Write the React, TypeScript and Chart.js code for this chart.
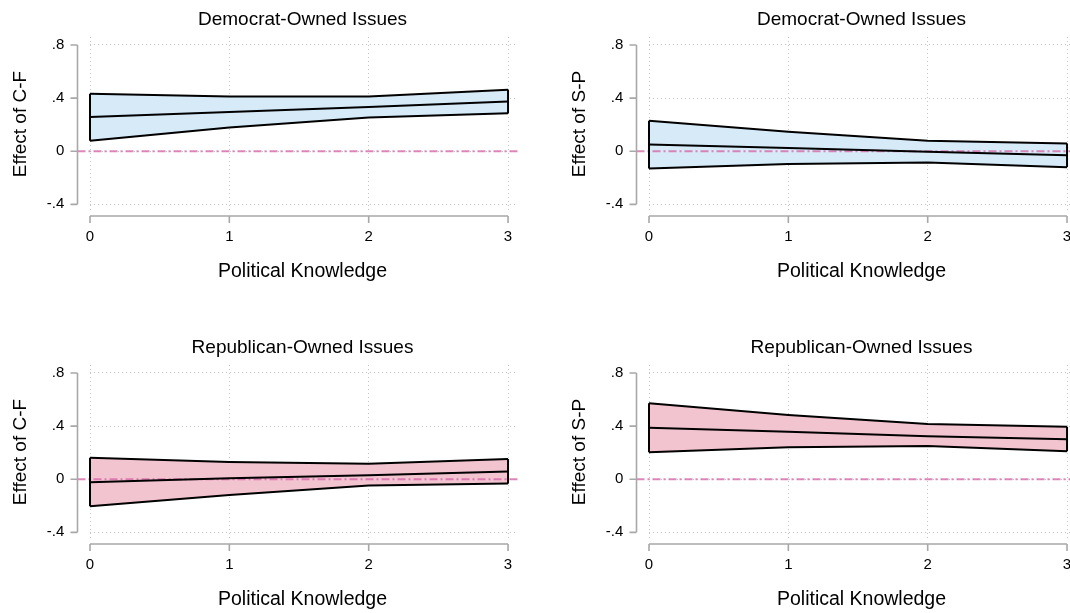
import React, { useEffect, useRef } from "react";
import { Chart, registerables } from "chart.js";

Chart.register(...registerables);

// ---------- data ----------
const xValues = [0, 1, 2, 3];
const xTickLabels = ["0", "1", "2", "3"];
const yTickValues = [-0.4, 0, 0.4, 0.8];
const yTickLabels = ["-.4", "0", ".4", ".8"];

const demCF_est = [0.257, 0.295, 0.333, 0.374];
const demCF_hi = [0.433, 0.412, 0.412, 0.463];
const demCF_lo = [0.079, 0.178, 0.254, 0.285];

const demSP_est = [0.051, 0.025, -0.003, -0.031];
const demSP_hi = [0.229, 0.147, 0.079, 0.059];
const demSP_lo = [-0.13, -0.097, -0.084, -0.12];

const repCF_est = [-0.023, 0.008, 0.03, 0.058];
const repCF_hi = [0.162, 0.129, 0.116, 0.152];
const repCF_lo = [-0.203, -0.119, -0.048, -0.033];

const repSP_est = [0.387, 0.357, 0.324, 0.301];
const repSP_hi = [0.572, 0.484, 0.415, 0.395];
const repSP_lo = [0.203, 0.241, 0.251, 0.21];

const refValue = 0;
const xTitle = "Political Knowledge";

// ---------- styles ----------
const FONT = "'Liberation Sans', Arial, Helvetica, sans-serif";
const BLUE_FILL = "rgb(214,234,248)";
const PINK_FILL = "rgb(242,196,208)";
const REF_COLOR = "rgba(214,105,168,0.8)";
const AXIS_COLOR = "#a8a8a8";
const GRID_COLOR = "#c4c4c4";

const W = 520;
const H = 329;

type PanelCfg = {
  title: string;
  yTitle: string;
  est: number[];
  hi: number[];
  lo: number[];
  fill: string;
  left: number;
  top: number;
};

const panels: PanelCfg[] = [
  { title: "Democrat-Owned Issues", yTitle: "Effect of C-F", est: demCF_est, hi: demCF_hi, lo: demCF_lo, fill: BLUE_FILL, left: 0, top: 0 },
  { title: "Democrat-Owned Issues", yTitle: "Effect of S-P", est: demSP_est, hi: demSP_hi, lo: demSP_lo, fill: BLUE_FILL, left: 559, top: 0 },
  { title: "Republican-Owned Issues", yTitle: "Effect of C-F", est: repCF_est, hi: repCF_hi, lo: repCF_lo, fill: PINK_FILL, left: 0, top: 328 },
  { title: "Republican-Owned Issues", yTitle: "Effect of S-P", est: repSP_est, hi: repSP_hi, lo: repSP_lo, fill: PINK_FILL, left: 559, top: 328 },
];

const pts = (ys: number[]) => xValues.map((x, i) => ({ x, y: ys[i] }));

const decorPlugin = {
  id: "decor",
  afterDatasetDraw(chart: any, args: any) {
    if (args.index !== 0) return;
    const { ctx, chartArea } = chart;
    const ys = chart.scales.y;
    const yAxisX = chartArea.left - 12.5;
    const y0 = ys.getPixelForValue(refValue);
    ctx.save();
    ctx.strokeStyle = REF_COLOR;
    ctx.lineWidth = 1.8;
    ctx.setLineDash([8, 3, 2, 3]);
    ctx.beginPath();
    ctx.moveTo(yAxisX, y0);
    ctx.lineTo(chartArea.right + 6, y0);
    ctx.stroke();
    ctx.restore();
  },
  afterDraw(chart: any) {
    const { ctx, chartArea } = chart;
    const xs = chart.scales.x;
    const ys = chart.scales.y;
    ctx.save();
    ctx.strokeStyle = AXIS_COLOR;
    ctx.lineWidth = 1.6;
    ctx.setLineDash([]);
    // x axis
    const axY = chartArea.bottom + 5;
    const xa = xs.getPixelForValue(xValues[0]);
    const xb = xs.getPixelForValue(xValues[xValues.length - 1]);
    ctx.beginPath();
    ctx.moveTo(xa, axY);
    ctx.lineTo(xb, axY);
    xValues.forEach((v) => {
      const p = xs.getPixelForValue(v);
      ctx.moveTo(p, axY);
      ctx.lineTo(p, axY + 7);
    });
    ctx.stroke();
    // y axis
    const axX = chartArea.left - 12.5;
    const ya = ys.getPixelForValue(yTickValues[0]);
    const yb = ys.getPixelForValue(yTickValues[yTickValues.length - 1]);
    ctx.beginPath();
    ctx.moveTo(axX, ya);
    ctx.lineTo(axX, yb);
    yTickValues.forEach((v) => {
      const p = ys.getPixelForValue(v);
      ctx.moveTo(axX, p);
      ctx.lineTo(axX - 7, p);
    });
    ctx.stroke();
    ctx.restore();
  },
};

function Panel({ cfg }: { cfg: PanelCfg }) {
  const ref = useRef<HTMLCanvasElement | null>(null);
  useEffect(() => {
    if (!ref.current) return;
    const last = xValues.length - 1;
    const lineBase = {
      borderColor: "#000",
      borderWidth: 2,
      pointRadius: 0,
      tension: 0,
      fill: false,
      clip: false as any,
      order: 1,
    };
    const chart = new Chart(ref.current, {
      type: "line",
      data: {
        datasets: [
          { data: pts(cfg.hi), borderWidth: 0, pointRadius: 0, fill: "+1", backgroundColor: cfg.fill, order: 10, tension: 0 } as any,
          { data: pts(cfg.lo), borderWidth: 0, pointRadius: 0, fill: false, order: 10, tension: 0 } as any,
          { ...lineBase, data: pts(cfg.hi) },
          { ...lineBase, data: pts(cfg.lo) },
          { ...lineBase, data: pts(cfg.est) },
          { ...lineBase, data: [{ x: xValues[0], y: cfg.lo[0] }, { x: xValues[0], y: cfg.hi[0] }] },
          { ...lineBase, data: [{ x: xValues[last], y: cfg.lo[last] }, { x: xValues[last], y: cfg.hi[last] }] },
        ],
      },
      options: {
        responsive: false,
        devicePixelRatio: 1,
        animation: false,
        events: [],
        layout: { padding: { left: 0, right: 5, top: 0, bottom: 0 } },
        plugins: {
          legend: { display: false },
          tooltip: { enabled: false },
          title: {
            display: true,
            text: cfg.title,
            color: "#000",
            font: { family: FONT, size: 19, weight: "normal" },
            padding: { top: 8.3, bottom: 5.9 },
            fullSize: false,
          } as any,
        },
        scales: {
          x: {
            type: "linear",
            position: "bottom",
            min: 0,
            max: 3.05,
            afterBuildTicks: (s: any) => {
              s.ticks = xValues.map((v) => ({ value: v }));
            },
            afterFit: (s: any) => {
              s.height = H - 211;
              s.paddingLeft = 0;
              s.paddingRight = 0;
            },
            ticks: {
              autoSkip: false,
              maxRotation: 0,
              padding: 17.2,
              color: "#000",
              font: { family: FONT, size: 15 },
              callback: (_v: any, i: number) => xTickLabels[i],
            },
            grid: { color: GRID_COLOR, lineWidth: 1, drawTicks: false },
            border: { display: false, dash: [1, 3] },
            title: {
              display: true,
              text: xTitle,
              color: "#000",
              font: { family: FONT, size: 19.5 },
              padding: { top: 0, bottom: 46 },
            },
          },
          y: {
            type: "linear",
            position: "left",
            min: -0.45,
            max: 0.86,
            afterBuildTicks: (s: any) => {
              s.ticks = yTickValues.map((v) => ({ value: v }));
            },
            afterFit: (s: any) => {
              s.width = 90;
              s.paddingTop = 0;
              s.paddingBottom = 0;
            },
            ticks: {
              autoSkip: false,
              padding: 25.7,
              color: "#000",
              font: { family: FONT, size: 15 },
              callback: (_v: any, i: number) => yTickLabels[i],
            },
            grid: { color: GRID_COLOR, lineWidth: 1, drawTicks: false },
            border: { display: false, dash: [1, 3] },
            title: {
              display: true,
              text: cfg.yTitle,
              color: "#000",
              font: { family: FONT, size: 19 },
              padding: { top: 9, bottom: 0 },
            },
          },
        },
      },
      plugins: [decorPlugin],
    });
    return () => chart.destroy();
  }, [cfg]);
  return (
    <div style={{ position: "absolute", left: cfg.left, top: cfg.top, width: W, height: H }}>
      <canvas ref={ref} width={W} height={H} style={{ display: "block", width: W, height: H }} />
    </div>
  );
}

export default function App() {
  return (
    <div
      style={{
        position: "absolute",
        left: 0,
        top: 0,
        width: 1070,
        height: 613,
        overflow: "hidden",
        background: "#fff",
      }}
    >
      {panels.map((p, i) => (
        <Panel key={i} cfg={p} />
      ))}
    </div>
  );
}
